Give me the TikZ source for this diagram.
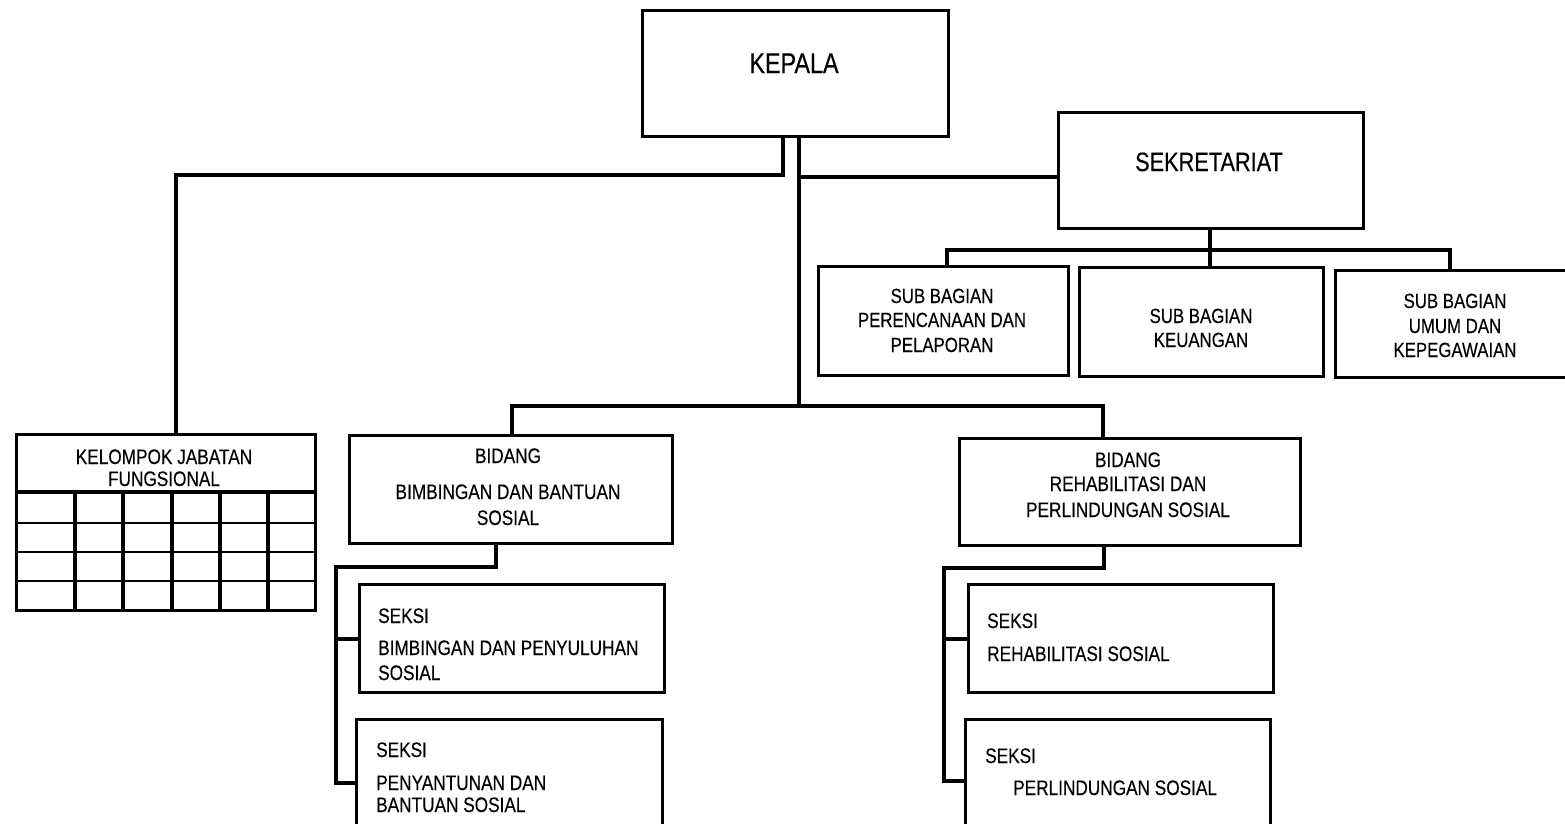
\documentclass[tikz,border=0pt]{standalone}
\usepackage{fontspec}
\setmainfont{Liberation Sans}[FakeStretch=0.82,FakeBold=0.3]
\newcommand\myfs[1]{\fontsize{#1}{#1}\selectfont}
\begin{document}
\begin{tikzpicture}[x=1pt,y=-1pt,
  box/.style={draw, line width=3.2pt, inner sep=0pt, anchor=north west},
  conn/.style={line width=3.2pt},
  tx/.style={inner sep=0pt, anchor=base},
  txl/.style={inner sep=0pt, anchor=base west}]
\useasboundingbox (0,0) rectangle (1565,823);
\clip (0,0) rectangle (1565,823);

% boxes
\node[box, minimum width=306pt, minimum height=126pt] (kepala) at (640.5,8.5) {};
\node[box, minimum width=305pt, minimum height=116pt] (sekr) at (1056.5,110.5) {};
\node[box, minimum width=250pt, minimum height=109pt] (sub1) at (816.5,264.5) {};
\node[box, minimum width=244pt, minimum height=109pt] (sub2) at (1077.5,265.5) {};
\node[box, minimum width=300pt, minimum height=107pt] (sub3) at (1333.5,268.5) {};
\node[box, minimum width=299pt, minimum height=176pt] (kel) at (14.5,432.5) {};
\node[box, minimum width=323pt, minimum height=108pt] (bidL) at (347.5,433.5) {};
\node[box, minimum width=341pt, minimum height=107pt] (bidR) at (957.5,436.5) {};
\node[box, minimum width=305pt, minimum height=108pt] (seksiL1) at (357.5,582.5) {};
\node[box, minimum width=306pt, minimum height=130pt] (seksiL2) at (354.5,717.5) {};
\node[box, minimum width=305pt, minimum height=108pt] (seksiR1) at (966.5,582.5) {};
\node[box, minimum width=305pt, minimum height=130pt] (seksiR2) at (963.5,717.5) {};

% table inside KELOMPOK
\draw[line width=3.2pt] (kel.west |- 0,492) -- (kel.east |- 0,492);
\foreach \yy in {523,552,581} \draw[line width=2.6pt] (kel.west |- 0,\yy) -- (kel.east |- 0,\yy);
\foreach \xx in {75,123,172,220,268} \draw[line width=3.2pt] (\xx,492) -- (\xx,608.5);

% connectors
\coordinate (jk) at (783,175);
\coordinate (jkel) at (176,175);
\draw[conn] (kepala.south -| jk) -- (jk) -- (jkel) -- (jkel |- kel.north);
\coordinate (jm) at (799,406);
\draw[conn] (kepala.south -| jm) -- (jm);
\coordinate (js) at (799,177);
\draw[conn] (js) -- (js -| sekr.west);
\coordinate (jbl) at (512,406);
\coordinate (jbr) at (1103,406);
\draw[conn] (bidL.north -| jbl) -- (jbl) -- (jbr) -- (jbr |- bidR.north);

\coordinate (jsd) at (1210,250);
\draw[conn] (sekr.south -| jsd) -- (jsd) -- (jsd |- sub2.north);
\coordinate (jb1) at (947,250);
\coordinate (jb3) at (1450,250);
\draw[conn] (sub1.north -| jb1) -- (jb1) -- (jb3) -- (jb3 |- sub3.north);

\coordinate (jl1) at (496,567);
\coordinate (jl2) at (336,567);
\coordinate (jl3) at (336,783);
\coordinate (jl4) at (336,639);
\draw[conn] (bidL.south -| jl1) -- (jl1) -- (jl2) -- (jl3) -- (jl3 -| seksiL2.west);
\draw[conn] (jl4) -- (jl4 -| seksiL1.west);

\coordinate (jr1) at (1104,568);
\coordinate (jr2) at (944,568);
\coordinate (jr3) at (944,781);
\coordinate (jr4) at (944,639);
\draw[conn] (bidR.south -| jr1) -- (jr1) -- (jr2) -- (jr3) -- (jr3 -| seksiR2.west);
\draw[conn] (jr4) -- (jr4 -| seksiR1.west);

% texts
\node[tx, font=\myfs{28.5}] (tKepala) at (794,73) {KEPALA};
\node[tx, font=\myfs{26.5}] (tSekr) at (1209,171) {SEKRETARIAT};

\node[tx, font=\myfs{20.5}] (tS1a) at (942,303) {SUB BAGIAN};
\node[tx, font=\myfs{20.5}] (tS1b) at (942,327) {PERENCANAAN DAN};
\node[tx, font=\myfs{20.5}] (tS1c) at (942,352) {PELAPORAN};

\node[tx, font=\myfs{20.5}] (tS2a) at (1201,323) {SUB BAGIAN};
\node[tx, font=\myfs{20.5}] (tS2b) at (1201,347) {KEUANGAN};

\node[tx, font=\myfs{20.5}] (tS3a) at (1455,308) {SUB BAGIAN};
\node[tx, font=\myfs{20.5}] (tS3b) at (1455,333) {UMUM DAN};
\node[tx, font=\myfs{20.5}] (tS3c) at (1455,357) {KEPEGAWAIAN};

\node[tx, font=\myfs{21}] (tKa) at (164,464) {KELOMPOK JABATAN};
\node[tx, font=\myfs{21}] (tKb) at (164,486) {FUNGSIONAL};

\node[tx, font=\myfs{21}] (tBLa) at (508,463) {BIDANG};
\node[tx, font=\myfs{21}] (tBLb) at (508,499) {BIMBINGAN DAN BANTUAN};
\node[tx, font=\myfs{21}] (tBLc) at (508,525) {SOSIAL};

\node[tx, font=\myfs{21}] (tBRa) at (1128,467) {BIDANG};
\node[tx, font=\myfs{21}] (tBRb) at (1128,491) {REHABILITASI DAN};
\node[tx, font=\myfs{21}] (tBRc) at (1128,517) {PERLINDUNGAN SOSIAL};

\node[txl, font=\myfs{21}] (tL1a) at (378,623) {SEKSI};
\node[txl, font=\myfs{21}] (tL1b) at (378,655) {BIMBINGAN DAN PENYULUHAN};
\node[txl, font=\myfs{21}] (tL1c) at (378,680) {SOSIAL};

\node[txl, font=\myfs{21}] (tL2a) at (376,757) {SEKSI};
\node[txl, font=\myfs{21}] (tL2b) at (376,790) {PENYANTUNAN DAN};
\node[txl, font=\myfs{21}] (tL2c) at (376,812) {BANTUAN SOSIAL};

\node[txl, font=\myfs{21}] (tR1a) at (987,628) {SEKSI};
\node[txl, font=\myfs{21}] (tR1b) at (987,661) {REHABILITASI SOSIAL};

\node[txl, font=\myfs{21}] (tR2a) at (985,763) {SEKSI};
\node[txl, font=\myfs{21}] (tR2b) at (1013,795) {PERLINDUNGAN SOSIAL};
\end{tikzpicture}
\end{document}
